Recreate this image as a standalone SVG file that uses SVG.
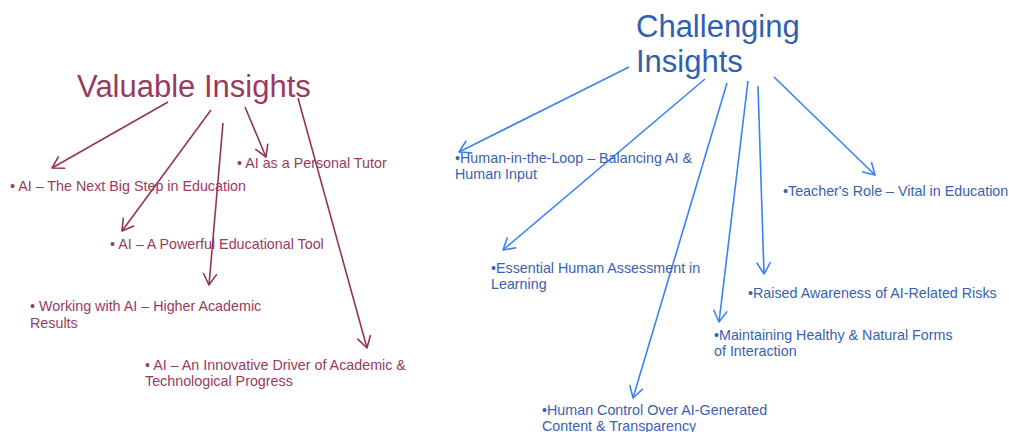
<svg xmlns="http://www.w3.org/2000/svg" width="1009" height="432" viewBox="0 0 1009 432">
  <style>
    .bg { fill: #ffffff; }
    .title { font-family: "Liberation Sans", Arial, sans-serif; font-size: 31px; }
    .item { font-family: "Liberation Sans", Arial, sans-serif; font-size: 14.3px; }
    .val { fill: #993a5e; }
    .chal-title { fill: #2f5fb3; }
    .chal { fill: #3a5fb0; }
    .link-val { stroke: #933459; stroke-width: 1.6; fill: none; marker-end: url(#head-val); }
    .link-chal { stroke: #3d82f2; stroke-width: 1.6; fill: none; marker-end: url(#head-chal); }
  </style>
  <defs>
    <marker id="head-val" viewBox="-13 -8 15 16" refX="0" refY="0" markerWidth="15" markerHeight="16" markerUnits="userSpaceOnUse" orient="auto" overflow="visible">
      <path d="M-11,-6.5 L0,0 L-11,6.5" fill="none" stroke="#933459" stroke-width="1.6" stroke-linecap="round" stroke-linejoin="round"/>
    </marker>
    <marker id="head-chal" viewBox="-13 -8 15 16" refX="0" refY="0" markerWidth="15" markerHeight="16" markerUnits="userSpaceOnUse" orient="auto" overflow="visible">
      <path d="M-11,-6.5 L0,0 L-11,6.5" fill="none" stroke="#3d82f2" stroke-width="1.6" stroke-linecap="round" stroke-linejoin="round"/>
    </marker>
  </defs>

  <rect class="bg" x="0" y="0" width="1009" height="432"/>

  <!-- connectors -->
  <g id="connectors">
    <line class="link-val" x1="168" y1="102" x2="52" y2="168"/>
    <line class="link-val" x1="211" y1="110" x2="122" y2="231"/>
    <line class="link-val" x1="223" y1="123" x2="209" y2="285"/>
    <line class="link-val" x1="245" y1="107" x2="266" y2="157"/>
    <line class="link-val" x1="298" y1="98" x2="367" y2="348"/>

    <line class="link-chal" x1="629" y1="67" x2="459" y2="152"/>
    <line class="link-chal" x1="705" y1="79" x2="503" y2="250"/>
    <line class="link-chal" x1="727" y1="83" x2="633" y2="398"/>
    <line class="link-chal" x1="748" y1="81" x2="719" y2="322"/>
    <line class="link-chal" x1="758" y1="86" x2="764" y2="274"/>
    <line class="link-chal" x1="774" y1="77" x2="875" y2="175"/>
  </g>

  <!-- valuable insights -->
  <g id="valuable-insights">
    <text class="title val" x="77" y="97">Valuable Insights</text>
  </g>
  <g id="val-next-big-step">
    <text class="item val" x="10" y="191">• AI – The Next Big Step in Education</text>
  </g>
  <g id="val-personal-tutor">
    <text class="item val" x="237" y="168">• AI as a Personal Tutor</text>
  </g>
  <g id="val-educational-tool">
    <text class="item val" x="110" y="249">• AI – A Powerful Educational Tool</text>
  </g>
  <g id="val-academic-results">
    <text class="item val" x="30" y="311">• Working with AI – Higher Academic</text>
    <text class="item val" x="30" y="328">Results</text>
  </g>
  <g id="val-innovative-driver">
    <text class="item val" x="145" y="370">• AI – An Innovative Driver of Academic &amp;</text>
    <text class="item val" x="145" y="386">Technological Progress</text>
  </g>

  <!-- challenging insights -->
  <g id="challenging-insights">
    <text class="title chal-title" x="636" y="37">Challenging</text>
    <text class="title chal-title" x="636" y="72">Insights</text>
  </g>
  <g id="chal-human-in-loop">
    <text class="item chal" x="455" y="163">•Human-in-the-Loop – Balancing AI &amp;</text>
    <text class="item chal" x="455" y="179">Human Input</text>
  </g>
  <g id="chal-teachers-role">
    <text class="item chal" x="783" y="196">•Teacher's Role – Vital in Education</text>
  </g>
  <g id="chal-human-assessment">
    <text class="item chal" x="491" y="273">•Essential Human Assessment in</text>
    <text class="item chal" x="491" y="289">Learning</text>
  </g>
  <g id="chal-ai-risks">
    <text class="item chal" x="748" y="298">•Raised Awareness of AI-Related Risks</text>
  </g>
  <g id="chal-natural-interaction">
    <text class="item chal" x="714" y="340">•Maintaining Healthy &amp; Natural Forms</text>
    <text class="item chal" x="714" y="356">of Interaction</text>
  </g>
  <g id="chal-human-control">
    <text class="item chal" x="542" y="415">•Human Control Over AI-Generated</text>
    <text class="item chal" x="542" y="431">Content &amp; Transparency</text>
  </g>
</svg>
